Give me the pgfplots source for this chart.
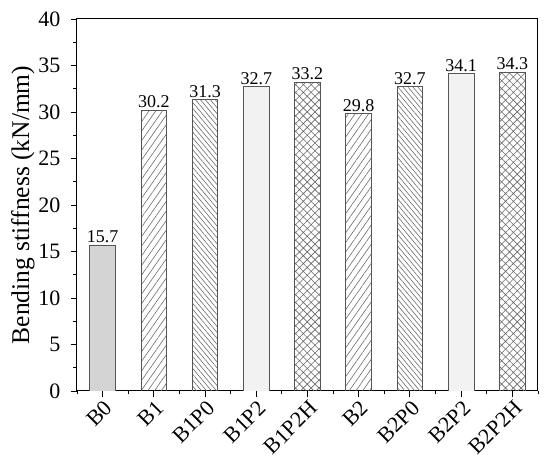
\documentclass[border=0pt]{standalone}
\usepackage{pgfplots}
\pgfplotsset{compat=1.18}
\usepackage{fontspec}
\setmainfont{Liberation Serif}
\usetikzlibrary{patterns.meta}

\definecolor{baredge}{HTML}{555555}
\definecolor{hatchgray}{HTML}{6A6A6A}
\definecolor{fillB0}{HTML}{D4D4D4}
\definecolor{fillP2}{HTML}{F2F2F2}

\pgfplotsset{
  barbase/.style={draw=baredge, line width=0.9pt},
  slash/.style={barbase, pattern={Lines[angle=55,distance=5.5pt,line width=0.6pt]}, pattern color=hatchgray},
  backslash/.style={barbase, pattern={Lines[angle=-50,distance=3.8pt,line width=0.6pt]}, pattern color=hatchgray},
  cross/.style={barbase, pattern={Hatch[angle=45,distance=5.5pt,line width=0.6pt]}, pattern color=hatchgray},
}

\begin{document}
\begin{tikzpicture}
\begin{axis}[
  name=ax,
  scale only axis,
  width=461pt, height=372pt,
  ybar, bar width=0.5, bar shift=0pt,
  xmin=-0.5, xmax=8.5,
  ymin=0, ymax=40,
  xtick={0,...,8},
  xticklabels={B0,B1,B1P0,B1P2,B1P2H,B2,B2P0,B2P2,B2P2H},
  minor xtick={-0.5,0.5,...,8.5},
  ytick={0,5,...,40},
  minor y tick num=1,
  tick align=outside,
  xtick pos=bottom, ytick pos=left,
  major tick length=6pt, minor tick length=3.5pt,
  every tick/.style={black, line width=0.9pt},
  axis line style={line width=1pt},
  /pgf/number format/assume math mode=true,
  tick label style={font=\fontsize{22}{24}\selectfont},
  yticklabel style={xshift=-7pt},
  xticklabel style={rotate=45, anchor=north east, inner sep=1pt, yshift=-1pt, font=\fontsize{22}{24}\selectfont},
  ylabel={Bending stiffness (kN/mm)},
  every axis y label/.style={at={([xshift=-54pt]rel axis cs:0,0.5)}, rotate=90, anchor=center, font=\fontsize{25.5}{28}\selectfont},
  nodes near coords,
  nodes near coords style={font=\fontsize{18}{20}\selectfont, /pgf/number format/fixed, /pgf/number format/fixed zerofill, /pgf/number format/precision=1, inner sep=2pt},
]
\addplot[barbase, fill=fillB0] coordinates {(0,15.7)};
\addplot[slash] coordinates {(1,30.2)};
\addplot[backslash] coordinates {(2,31.3)};
\addplot[barbase, fill=fillP2] coordinates {(3,32.7)};
\addplot[cross] coordinates {(4,33.2)};
\addplot[slash] coordinates {(5,29.8)};
\addplot[backslash] coordinates {(6,32.7)};
\addplot[barbase, fill=fillP2] coordinates {(7,34.1)};
\addplot[cross] coordinates {(8,34.3)};
\end{axis}
\path ([shift={(-77pt,-67pt)}]ax.south west) ([shift={(12pt,19pt)}]ax.north east);
\end{tikzpicture}
\end{document}
